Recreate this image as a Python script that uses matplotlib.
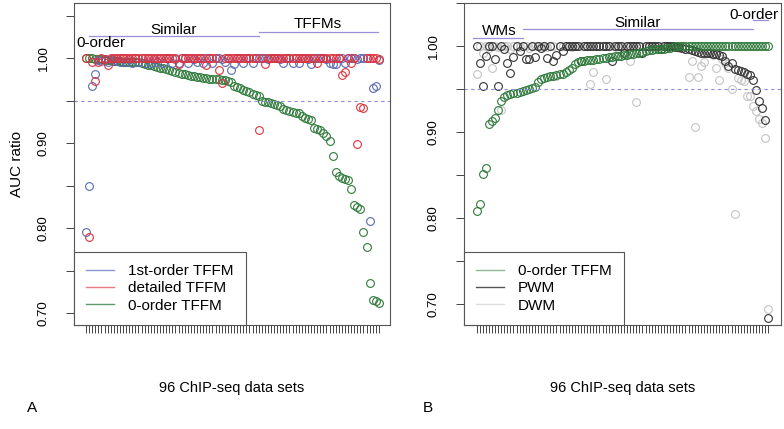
import numpy as np
import matplotlib
matplotlib.use("Agg")
import matplotlib.pyplot as plt
from matplotlib.lines import Line2D

plt.rcParams['font.family'] = ['Liberation Sans', 'DejaVu Sans']

# ---- data: panel A (sorted by 0-order TFFM) ----
zero_order_A = [1.000, 1.000, 1.000, 0.999, 0.999, 0.999, 0.998, 0.998, 0.998, 0.997,
                0.997, 0.997, 0.996, 0.996, 0.996, 0.995, 0.995, 0.995, 0.994, 0.993,
                0.992, 0.992, 0.991, 0.990, 0.989, 0.988, 0.987, 0.986, 0.985, 0.984,
                0.983, 0.982, 0.981, 0.980, 0.979, 0.979, 0.978, 0.978, 0.977, 0.977,
                0.976, 0.976, 0.975, 0.975, 0.974, 0.974, 0.973, 0.972, 0.967, 0.966,
                0.965, 0.963, 0.961, 0.960, 0.958, 0.957, 0.956, 0.950, 0.949, 0.948,
                0.947, 0.946, 0.945, 0.944, 0.940, 0.939, 0.938, 0.937, 0.936, 0.935,
                0.932, 0.930, 0.928, 0.927, 0.918, 0.917, 0.915, 0.912, 0.908, 0.903,
                0.885, 0.866, 0.861, 0.859, 0.858, 0.857, 0.846, 0.827, 0.825, 0.822,
                0.795, 0.778, 0.735, 0.716, 0.714, 0.712]
first_order_A = [0.795, 0.850, 0.967, 0.982, 0.998, 0.997, 0.999, 0.996, 0.999, 0.997,
                 0.999, 0.995, 1.000, 0.996, 0.999, 0.994, 1.000, 0.995, 1.000, 0.994,
                 1.000, 0.994, 0.999, 0.995, 1.000, 0.994, 1.000, 1.000, 0.994, 0.999,
                 0.994, 1.000, 1.000, 0.994, 1.000, 0.999, 0.995, 1.000, 0.994, 1.000,
                 1.000, 0.994, 1.000, 1.000, 0.999, 0.995, 1.000, 0.986, 0.993, 1.000,
                 1.000, 0.994, 1.000, 1.000, 0.994, 1.000, 1.000, 1.000, 1.000, 0.999,
                 1.000, 1.000, 1.000, 0.999, 0.994, 1.000, 1.000, 0.994, 1.000, 0.994,
                 1.000, 1.000, 0.999, 0.993, 1.000, 1.000, 1.000, 1.000, 0.999, 0.994,
                 0.993, 0.993, 1.000, 1.000, 0.994, 1.000, 1.000, 1.000, 0.999, 1.000,
                 1.000, 1.000, 0.808, 0.965, 0.967, 0.998]
detailed_A = [1.000, 0.789, 0.996, 0.973, 0.996, 1.000, 0.999, 0.992, 1.000, 1.000,
              1.000, 1.000, 1.000, 1.000, 1.000, 1.000, 1.000, 1.000, 1.000, 1.000,
              1.000, 1.000, 1.000, 1.000, 1.000, 1.000, 1.000, 1.000, 1.000, 1.000,
              0.993, 1.000, 1.000, 1.000, 1.000, 1.000, 1.000, 1.000, 1.000, 0.992,
              1.000, 1.000, 1.000, 0.986, 0.971, 1.000, 1.000, 1.000, 1.000, 1.000,
              1.000, 1.000, 1.000, 1.000, 1.000, 1.000, 0.916, 1.000, 0.993, 1.000,
              1.000, 1.000, 1.000, 1.000, 1.000, 1.000, 1.000, 1.000, 1.000, 1.000,
              1.000, 1.000, 1.000, 1.000, 1.000, 0.994, 1.000, 1.000, 1.000, 1.000,
              1.000, 1.000, 1.000, 0.980, 0.984, 1.000, 0.994, 1.000, 0.899, 0.943,
              0.941, 1.000, 1.000, 1.000, 1.000, 0.999]

# ---- data: panel B (sorted by 0-order TFFM) ----
zero_order_B = [0.808, 0.817, 0.851, 0.858, 0.910, 0.913, 0.916, 0.926, 0.936, 0.941,
                0.943, 0.944, 0.945, 0.946, 0.947, 0.948, 0.949, 0.950, 0.951, 0.953,
                0.958, 0.962, 0.963, 0.964, 0.965, 0.965, 0.966, 0.967, 0.968, 0.970,
                0.972, 0.975, 0.979, 0.982, 0.983, 0.983, 0.984, 0.984, 0.984, 0.985,
                0.985, 0.986, 0.986, 0.987, 0.987, 0.988, 0.988, 0.989, 0.990, 0.990,
                0.991, 0.991, 0.992, 0.992, 0.993, 0.994, 0.995, 0.995, 0.996, 0.996,
                0.997, 0.997, 0.998, 0.998, 0.999, 1.000, 1.000, 1.000, 1.000, 1.000,
                1.000, 1.000, 1.000, 1.000, 1.000, 1.000, 1.000, 1.000, 1.000, 1.000,
                1.000, 1.000, 1.000, 1.000, 1.000, 1.000, 1.000, 1.000, 1.000, 1.000,
                1.000, 1.000, 1.000, 1.000, 1.000, 1.000]
pwm_B = [1.000, 0.980, 0.954, 0.988, 1.000, 1.000, 0.985, 0.954, 1.000, 0.996,
         0.980, 0.969, 0.987, 1.000, 0.994, 1.000, 0.985, 0.985, 1.000, 0.987,
         1.000, 0.998, 1.000, 0.986, 1.000, 0.983, 0.990, 1.000, 0.994, 1.000,
         1.000, 1.000, 1.000, 1.000, 0.983, 1.000, 1.000, 1.000, 1.000, 1.000,
         1.000, 1.000, 1.000, 1.000, 0.983, 1.000, 1.000, 1.000, 0.992, 1.000,
         1.000, 1.000, 1.000, 1.000, 0.992, 1.000, 1.000, 1.000, 1.000, 1.000,
         0.996, 1.000, 1.000, 1.000, 1.000, 0.999, 0.999, 0.998, 0.997, 0.996,
         0.995, 0.994, 0.993, 0.992, 0.992, 0.992, 0.992, 0.991, 0.991, 0.990,
         0.988, 0.983, 0.977, 0.980, 0.973, 0.972, 0.971, 0.970, 0.967, 0.966,
         0.960, 0.949, 0.936, 0.928, 0.914, 0.684]
dwm_B = [0.968, 1.000, 0.992, 1.000, 0.998, 0.975, 1.000, 0.999, 0.926, 1.000,
         1.000, 0.997, 1.000, 1.000, 0.999, 1.000, 1.000, 0.998, 1.000, 1.000,
         1.000, 1.000, 1.000, 0.999, 1.000, 1.000, 0.965, 1.000, 1.000, 1.000,
         1.000, 0.999, 1.000, 1.000, 1.000, 1.000, 1.000, 0.956, 0.970, 1.000,
         1.000, 1.000, 0.962, 1.000, 1.000, 1.000, 0.998, 1.000, 1.000, 1.000,
         0.983, 1.000, 0.935, 1.000, 1.000, 0.998, 1.000, 1.000, 1.000, 1.000,
         1.000, 1.000, 1.000, 1.000, 1.000, 1.000, 0.998, 1.000, 0.999, 0.964,
         0.983, 0.906, 0.964, 0.977, 0.981, 0.995, 0.993, 0.990, 0.975, 0.960,
         0.985, 0.980, 0.975, 0.950, 0.805, 0.963, 0.960, 0.959, 0.942, 0.942,
         0.930, 0.925, 0.915, 0.911, 0.893, 0.695]

n = 96
idx = np.arange(1, n + 1)

c_blue = '#5a6ab4'
c_red = '#e0323e'
c_green = '#2f7a3b'
c_pwm = '#333333'
c_dwm = '#c4c4c4'
c_seg = '#9a90d8'

fig = plt.figure(figsize=(7.84, 4.29), dpi=100)
axA = fig.add_axes([74/784, 1-325/429, 316/784, 322/429])
axB = fig.add_axes([464/784, 1-325/429, 317/784, 322/429])

mk = dict(marker='o', linestyle='none', markersize=5.6, markerfacecolor='none', markeredgewidth=0.8)

# panel A
axA.plot(idx, zero_order_A, color=c_green, **mk)
axA.plot(idx, first_order_A, color=c_blue, **mk)
axA.plot(idx, detailed_A, color=c_red, **mk)
axA.set_xlim(-2.9, 99.6)
axA.set_ylim(0.686, 1.065)

# panel B
axB.plot(idx, dwm_B, color=c_dwm, **mk)
axB.plot(idx, pwm_B, color=c_pwm, **mk)
axB.plot(idx, zero_order_B, color=c_green, **mk)
axB.set_xlim(-3.1, 100.1)
axB.set_ylim(0.676, 1.0486)

for ax in (axA, axB):
    ax.axhline(0.95, color='#8c8ce0', lw=0.8, ls=(0, (3, 3)))
    ax.set_xticks(idx)
    ax.set_xticklabels([])
    yt = np.arange(0.70, 1.051, 0.05)
    ax.set_yticks(yt)
    ax.set_yticklabels(['%.2f' % v if i % 2 == 0 else '' for i, v in enumerate(yt)],
                       rotation=90, va='center', fontsize=9.5)
    ax.tick_params(direction='out', length=5.5, width=0.7, color='#444', pad=12)
    for s in ax.spines.values():
        s.set_color('#555')
        s.set_linewidth(0.8)
    ax.set_xlabel('96 ChIP-seq data sets', fontsize=10.5, labelpad=23)

axA.set_ylabel('AUC ratio', fontsize=11, labelpad=10)

# annotations panel A
axA.text(29.5, 1.033, 'Similar', ha='center', va='center', fontsize=11)
axA.plot([2, 57], [1.026, 1.026], color=c_seg, lw=0.9)
axA.text(76.2, 1.040, 'TFFMs', ha='center', va='center', fontsize=11)
axA.plot([57, 95.7], [1.031, 1.031], color=c_seg, lw=0.9)
axA.text(5.9, 1.018, '0-order', ha='center', va='center', fontsize=11)

# annotations panel B
axB.text(8.3, 1.017, 'WMs', ha='center', va='center', fontsize=11)
axB.plot([-0.2, 16.1], [1.0096, 1.0096], color=c_seg, lw=0.9)
axB.text(53.4, 1.027, 'Similar', ha='center', va='center', fontsize=11)
axB.plot([16, 91], [1.0197, 1.0197], color=c_seg, lw=0.9)
axB.text(91.2, 1.0366, '0-order', ha='center', va='center', fontsize=11)
axB.plot([91, 95.9], [1.0297, 1.0297], color=c_seg, lw=0.9)

leg_kw = dict(loc='lower left', bbox_to_anchor=(0, 0), borderaxespad=0, fontsize=11,
              fancybox=False, edgecolor='#555', framealpha=1, handlelength=1.85,
              handletextpad=0.9, labelspacing=0.22, borderpad=0.8)
hA = [Line2D([], [], color='#8a96d0', lw=1), Line2D([], [], color='#e87a82', lw=1),
      Line2D([], [], color='#5f9a6a', lw=1)]
legA = axA.legend(hA, ['1st-order TFFM', 'detailed TFFM', '0-order TFFM'], **leg_kw)
legA.get_frame().set_linewidth(0.8)
hB = [Line2D([], [], color='#8fb89a', lw=1), Line2D([], [], color='#555', lw=1),
      Line2D([], [], color='#dddddd', lw=1)]
legB = axB.legend(hB, ['0-order TFFM', 'PWM', 'DWM'], **leg_kw)
legB.get_frame().set_linewidth(0.8)

fig.text(32/784, 1-408/429, 'A', fontsize=11, ha='center', va='center')
fig.text(428/784, 1-408/429, 'B', fontsize=11, ha='center', va='center')

fig.savefig('out.png', dpi=100)
